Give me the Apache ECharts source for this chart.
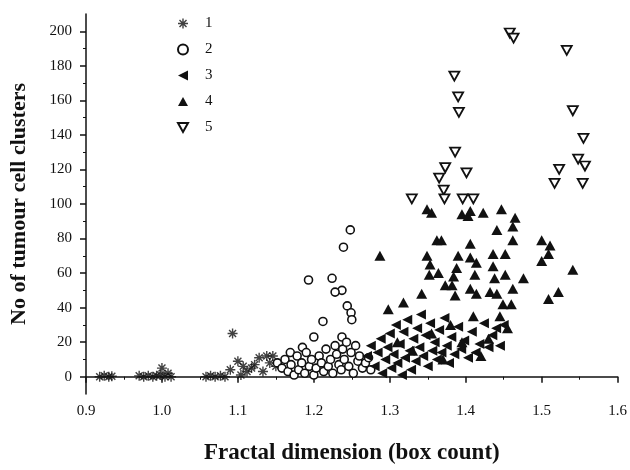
<!DOCTYPE html>
<html>
<head>
<meta charset="utf-8">
<script src="https://cdn.jsdelivr.net/npm/echarts@6/dist/echarts.min.js"></script>
<style>
  html, body { margin: 0; padding: 0; background: #fff; }
  #chart { width: 630px; height: 470px; }
</style>
</head>
<body>
<div id="chart"></div>
<script>
// group names shown in the legend
const groupNames = ['1', '2', '3', '4', '5']

// [fractal dimension, no of tumour cell clusters]
const group1 = [
  [0.918, 0], [0.924, 0.5], [0.93, 0], [0.934, 0.3],
  [0.97, 0.5], [0.976, 0], [0.982, 0.5], [0.988, 0], [0.993, 0.5],
  [0.998, 1], [1.0, 5], [1.004, 0], [1.008, 2], [1.012, 0],
  [1.058, 0], [1.064, 0.5], [1.07, 0], [1.077, 0.5], [1.083, 0],
  [1.09, 4], [1.093, 25], [1.1, 9], [1.104, 1], [1.107, 6], [1.112, 3],
  [1.118, 5], [1.122, 7], [1.128, 11], [1.133, 3], [1.138, 12], [1.142, 8],
  [1.146, 12], [1.15, 6]
]
const group2 = [
  [1.248, 85], [1.239, 75], [1.193, 56], [1.224, 57], [1.237, 50], [1.228, 49],
  [1.244, 41], [1.249, 37], [1.25, 33], [1.212, 32], [1.2, 23], [1.237, 23],
  [1.185, 17], [1.169, 14],
  [1.152, 8], [1.158, 5], [1.162, 10], [1.166, 3], [1.17, 7], [1.174, 1],
  [1.178, 12], [1.18, 4], [1.184, 8], [1.188, 2], [1.19, 14], [1.194, 6],
  [1.197, 10], [1.2, 1], [1.203, 5], [1.207, 12], [1.21, 8], [1.213, 3],
  [1.216, 16], [1.219, 6], [1.222, 10], [1.225, 2], [1.228, 18], [1.23, 13],
  [1.233, 7], [1.236, 4], [1.238, 16], [1.24, 10], [1.243, 20], [1.246, 6],
  [1.249, 14], [1.252, 2], [1.255, 18], [1.258, 9], [1.26, 12], [1.264, 5],
  [1.268, 8], [1.272, 11], [1.275, 4]
]
const group3 = [
  [1.27, 12], [1.275, 18], [1.28, 6], [1.284, 14], [1.288, 22], [1.29, 2],
  [1.294, 10], [1.297, 17], [1.3, 25], [1.302, 5], [1.305, 13], [1.308, 30],
  [1.31, 8], [1.313, 19], [1.316, 1], [1.318, 26], [1.32, 11], [1.323, 33],
  [1.326, 15], [1.328, 4], [1.331, 22], [1.334, 9], [1.336, 28], [1.339, 17],
  [1.341, 36], [1.344, 12], [1.347, 24], [1.35, 6], [1.353, 31], [1.356, 15],
  [1.359, 20], [1.362, 10], [1.365, 27], [1.368, 14], [1.372, 34], [1.375, 18],
  [1.378, 8], [1.381, 23], [1.385, 13], [1.39, 29], [1.394, 16], [1.398, 21],
  [1.403, 11], [1.408, 26], [1.413, 14], [1.418, 19], [1.424, 31], [1.43, 17],
  [1.435, 24], [1.44, 28], [1.445, 18], [1.45, 30]
]
const group4 = [
  [1.349, 97], [1.355, 95], [1.395, 94], [1.403, 93], [1.406, 96], [1.423, 95],
  [1.447, 97], [1.465, 92], [1.462, 87], [1.441, 85], [1.362, 79], [1.368, 79],
  [1.406, 77], [1.462, 79], [1.5, 79], [1.511, 76], [1.509, 71], [1.5, 67],
  [1.541, 62], [1.287, 70], [1.349, 70], [1.39, 70], [1.406, 69], [1.414, 66],
  [1.436, 71], [1.452, 71], [1.353, 65], [1.388, 63], [1.436, 64], [1.412, 59],
  [1.452, 59], [1.476, 57], [1.352, 59], [1.364, 60], [1.384, 58], [1.438, 57],
  [1.373, 53], [1.382, 53], [1.406, 51], [1.414, 48], [1.432, 49], [1.441, 48],
  [1.462, 51], [1.342, 48], [1.386, 47], [1.522, 49], [1.509, 45], [1.318, 43],
  [1.298, 39], [1.46, 42], [1.449, 42],
  [1.31, 20], [1.33, 15], [1.355, 25], [1.37, 10], [1.38, 30], [1.395, 20],
  [1.41, 35], [1.42, 12], [1.43, 22], [1.445, 35], [1.455, 28]
]
const group5 = [
  [1.458, 199], [1.463, 196], [1.533, 189], [1.385, 174], [1.39, 162],
  [1.391, 153], [1.541, 154], [1.555, 138], [1.386, 130], [1.548, 126],
  [1.557, 122], [1.523, 120], [1.373, 121], [1.401, 118], [1.365, 115],
  [1.517, 112], [1.554, 112], [1.371, 108], [1.372, 103], [1.329, 103],
  [1.396, 103], [1.41, 103]
]

// tick labels
const xTicks = [0.9, 1.0, 1.1, 1.2, 1.3, 1.4, 1.5, 1.6]
const xMinorTicks = [0.95, 1.05, 1.15, 1.25, 1.35, 1.45, 1.55]
const yTicks = [0, 20, 40, 60, 80, 100, 120, 140, 160, 180, 200]
const yMinorTicks = [10, 30, 50, 70, 90, 110, 130, 150, 170, 190]

const ink = '#111'
const serif = '"Liberation Serif", "DejaVu Serif", serif'
// marker shapes
const asterisk = 'path://M4.3,0L5.7,0L5.7,10L4.3,10Z M0,4.3L10,4.3L10,5.7L0,5.7Z M1,2L2,1L9,8L8,9Z M8,1L9,2L2,9L1,8Z'
const triLeft = 'path://M0,5L10,0L10,10Z'
const triUp = 'path://M5,0L10,9L0,9Z'
const triDown = 'path://M0,0L10,0L5,9Z'

const chart = echarts.init(document.getElementById('chart'))

const minorAxis = (values, type) => ({
  type: 'value',
  min: type === 'x' ? 0.9 : -10,
  max: type === 'x' ? 1.6 : 210,
  position: type === 'x' ? 'bottom' : 'left',
  axisLine: { show: false },
  axisLabel: { show: false },
  splitLine: { show: false },
  axisTick: { show: true, customValues: values, length: 3, lineStyle: { color: ink, width: 1 } }
})

const options = {
  backgroundColor: '#fff',
  animation: false,
  grid: { left: 85, right: 12, top: 14, bottom: 70 },
  legend: {
    orient: 'vertical',
    left: 172,
    top: 11,
    itemWidth: 10,
    itemHeight: 10,
    itemGap: 11,
    data: groupNames,
    textStyle: { fontFamily: serif, fontSize: 15, color: ink, padding: [0, 0, 0, 12] }
  },
  xAxis: [{
    type: 'value',
    min: 0.9,
    max: 1.6,
    name: 'Fractal dimension (box count)',
    nameLocation: 'middle',
    nameGap: 48,
    nameTextStyle: { fontFamily: serif, fontSize: 23, fontWeight: 'bold', color: ink },
    axisLine: { show: true, lineStyle: { color: ink, width: 1.5 } },
    axisTick: { show: true, customValues: xTicks, length: 6, lineStyle: { color: ink, width: 1.5 } },
    axisLabel: {
      customValues: xTicks,
      formatter: (v) => v.toFixed(1),
      fontFamily: serif, fontSize: 15, color: ink, margin: 10
    },
    splitLine: { show: false }
  }, minorAxis(xMinorTicks, 'x')],
  yAxis: [{
    type: 'value',
    min: -10,
    max: 210,
    name: 'No of tumour cell clusters',
    nameLocation: 'middle',
    nameGap: 56,
    nameTextStyle: { fontFamily: serif, fontSize: 22, fontWeight: 'bold', color: ink },
    axisLine: { show: true, lineStyle: { color: ink, width: 1.5 } },
    axisTick: { show: true, customValues: yTicks, length: 6, lineStyle: { color: ink, width: 1.5 } },
    axisLabel: { customValues: yTicks, fontFamily: serif, fontSize: 15, color: ink, margin: 14 },
    splitLine: { show: false }
  }, minorAxis(yMinorTicks, 'y')],
  series: [{
    name: groupNames[0],
    type: 'scatter',
    symbol: asterisk,
    symbolSize: 10,
    itemStyle: { color: ink },
    data: group1
  }, {
    name: groupNames[1],
    type: 'scatter',
    symbol: 'circle',
    symbolSize: 8,
    itemStyle: { color: '#fff', borderColor: ink, borderWidth: 1.6, opacity: 1 },
    data: group2
  }, {
    name: groupNames[2],
    type: 'scatter',
    symbol: triLeft,
    symbolSize: 10,
    itemStyle: { color: ink, opacity: 1 },
    data: group3
  }, {
    name: groupNames[3],
    type: 'scatter',
    symbol: triUp,
    symbolSize: [11, 10],
    itemStyle: { color: ink, opacity: 1 },
    data: group4
  }, {
    name: groupNames[4],
    type: 'scatter',
    symbol: triDown,
    symbolSize: [10, 9],
    itemStyle: { color: '#fff', borderColor: ink, borderWidth: 1.8, opacity: 1 },
    data: group5
  }]
}

chart.setOption(options, true)
</script>
</body>
</html>
